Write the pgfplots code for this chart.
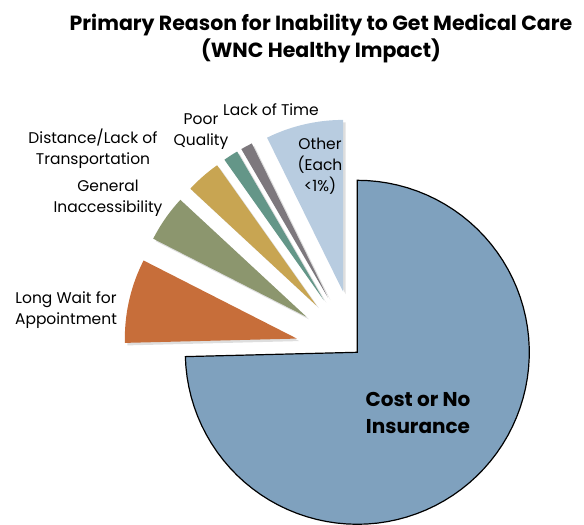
\documentclass[border=0pt]{standalone}
\usepackage{pgfplots}
\pgfplotsset{compat=1.18}
\usepackage{fontspec}
\setmainfont{Poppins}
\definecolor{cBlue}{RGB}{127,161,190}
\definecolor{cOrange}{RGB}{199,110,58}
\definecolor{cOlive}{RGB}{140,150,110}
\definecolor{cGold}{RGB}{200,165,82}
\definecolor{cTeal}{RGB}{100,150,136}
\definecolor{cGray}{RGB}{125,120,125}
\definecolor{cLight}{RGB}{184,204,224}
% values in percent (Excel order, clockwise from 12 o'clock)
\def\vCost{74.6}
\def\vWait{7.9}
\def\vGen{4.4}
\def\vDist{3.3}
\def\vPoor{1.4}
\def\vTime{1.1}
\def\vOther{7.3}
\def\cx{357.3}
\def\cy{-352.3}
\def\rad{172}
% #1 start cumulative %, #2 value %, #3 explode, #4 colour, #5 extra draw opts
\newcommand{\pieslice}[5]{%
  \pgfmathsetmacro\aS{90-3.6*#1}%
  \pgfmathsetmacro\aE{90-3.6*(#1+#2)}%
  \pgfmathsetmacro\aM{(\aS+\aE)/2}%
  \pgfmathsetmacro\ox{\cx+#3*cos(\aM)}%
  \pgfmathsetmacro\oy{\cy+#3*sin(\aM)}%
  \pgfmathsetmacro\sx{\ox+2.5}%
  \pgfmathsetmacro\sy{\oy-2.5}%
  \ifdim #3pt>0pt
  \edef\tmp{\noexpand\addplot[fill=black, fill opacity=0.13, draw=none, domain=\aE:\aS, samples=80]
    ({\sx+\rad*cos(x)},{\sy+\rad*sin(x)}) -- (axis cs:\sx,\sy) -- cycle;}\tmp
  \fi
  \edef\tmp{\noexpand\addplot[fill=#4, #5, domain=\aE:\aS, samples=80]
    ({\ox+\rad*cos(x)},{\oy+\rad*sin(x)}) -- (axis cs:\ox,\oy) -- cycle;}\tmp
}
\begin{document}
\begin{tikzpicture}
\begin{axis}[
  scale only axis, width=584pt, height=521pt,
  xmin=0, xmax=584, ymin=-521, ymax=0,
  hide axis, clip=false]
\path (axis cs:0,0) rectangle (axis cs:584,-521);
\pieslice{0}{\vCost}{0}{cBlue}{draw=black, line width=1.2pt, line join=miter}
\pgfmathsetmacro\cA{\vCost}
\pieslice{\cA}{\vWait}{62}{cOrange}{draw=none}
\pgfmathsetmacro\cA{\vCost+\vWait}
\pieslice{\cA}{\vGen}{62}{cOlive}{draw=none}
\pgfmathsetmacro\cA{\vCost+\vWait+\vGen}
\pieslice{\cA}{\vDist}{62}{cGold}{draw=none}
\pgfmathsetmacro\cA{\vCost+\vWait+\vGen+\vDist}
\pieslice{\cA}{\vPoor}{62}{cTeal}{draw=none}
\pgfmathsetmacro\cA{\vCost+\vWait+\vGen+\vDist+\vPoor}
\pieslice{\cA}{\vTime}{62}{cGray}{draw=none}
\pgfmathsetmacro\cA{\vCost+\vWait+\vGen+\vDist+\vPoor+\vTime}
\pieslice{\cA}{\vOther}{62}{cLight}{draw=none}
% title
\node[font=\bfseries\fontsize{20.5}{27}\selectfont, align=center] at (axis cs:321,-39)
  {Primary Reason for Inability to Get Medical Care\\(WNC Healthy Impact)};
% labels
\node[font=\fontsize{15.5}{21}\selectfont, align=center] at (axis cs:66,-310) {Long Wait for\\Appointment};
\node[font=\fontsize{15.5}{21}\selectfont, align=center] at (axis cs:108,-198) {General\\Inaccessibility};
\node[font=\fontsize{15.5}{21}\selectfont, align=center] at (axis cs:93,-149) {Distance/Lack of\\Transportation};
\node[font=\fontsize{15.5}{21}\selectfont, align=center] at (axis cs:201,-132) {Poor\\Quality};
\node[font=\fontsize{15.5}{21}\selectfont, align=center] at (axis cs:271,-110) {Lack of Time};
\node[font=\fontsize{15.5}{21}\selectfont, align=center] at (axis cs:320,-166) {Other\\(Each\\<1\%)};
\node[font=\bfseries\fontsize{20}{27}\selectfont, align=center] at (axis cs:418,-413) {Cost or No\\Insurance};
\end{axis}
\end{tikzpicture}
\end{document}
